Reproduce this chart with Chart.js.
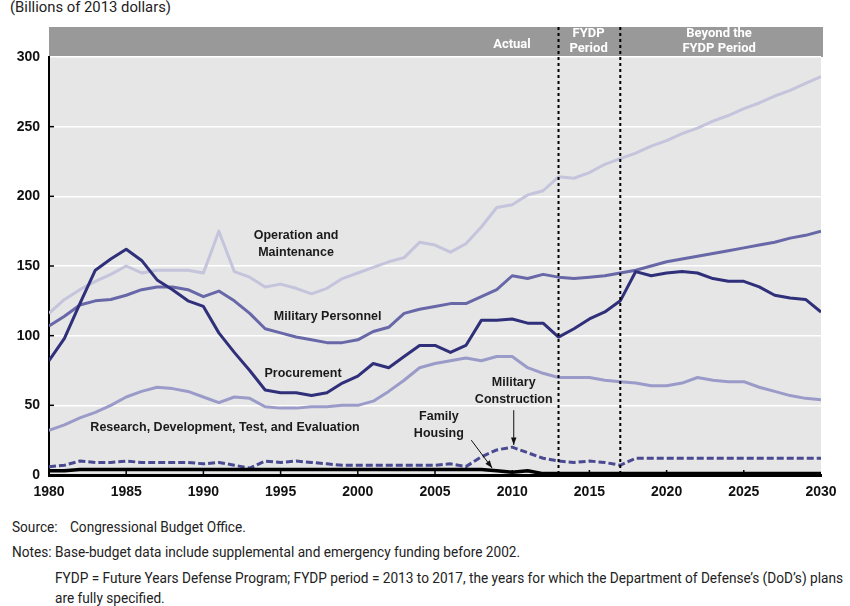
<!DOCTYPE html>
<html>
<head>
<meta charset="utf-8">
<script src="https://cdn.jsdelivr.net/npm/chart.js@4.4.1/dist/chart.umd.min.js"></script>
<style>
  body { margin: 0; background: #fff; width: 850px; height: 606px; overflow: hidden;
         font-family: Roboto, "Noto Sans", sans-serif; color: #222; }
  #wrap { position: absolute; left: 0; top: 0; width: 850px; height: 505px; }
  .t { position: absolute; font-size: 15px; white-space: nowrap; line-height: 17px; transform-origin: 0 50%; }
</style>
</head>
<body>
<div class="t" id="title" style="left:10px;top:-1px">(Billions of 2013 dollars)</div>
<div id="wrap"><canvas id="c"></canvas></div>
<div class="t n" style="left:12px;top:519px">Source:</div>
<div class="t n" style="left:70px;top:519px">Congressional Budget Office.</div>
<div class="t n" style="left:12px;top:544px">Notes:</div>
<div class="t n" style="left:55px;top:544px">Base-budget data include supplemental and emergency funding before 2002.</div>
<div class="t n" id="longline" style="left:55px;top:570px">FYDP = Future Years Defense Program; FYDP period = 2013 to 2017, the years for which the Department of Defense’s (DoD’s) plans</div>
<div class="t n" style="left:55px;top:590px">are fully specified.</div>
<script>
(function(){
    "use strict";

    // years 1980 - 2030
    const years = [1980, 1981, 1982, 1983, 1984, 1985, 1986, 1987, 1988, 1989,
                   1990, 1991, 1992, 1993, 1994, 1995, 1996, 1997, 1998, 1999,
                   2000, 2001, 2002, 2003, 2004, 2005, 2006, 2007, 2008, 2009,
                   2010, 2011, 2012, 2013, 2014, 2015, 2016, 2017, 2018, 2019,
                   2020, 2021, 2022, 2023, 2024, 2025, 2026, 2027, 2028, 2029, 2030];

    const opsMaint = [116, 126, 133, 139, 144, 150, 145, 147, 147, 147,
                      145, 175, 146, 142, 135, 137, 134, 130, 134, 141,
                      145, 149, 153, 156, 167, 165, 160, 166, 178, 192,
                      194, 201, 204, 214, 213, 217, 223, 227, 231, 236,
                      240, 245, 249, 254, 258, 263, 267, 272, 276, 281, 286];

    const milPersonnel = [107, 114, 122, 125, 126, 129, 133, 135, 135, 133,
                          128, 132, 125, 116, 105, 102, 99, 97, 95, 95,
                          97, 103, 106, 116, 119, 121, 123, 123, 128, 133,
                          143, 141, 144, 142, 141, 142, 143, 145, 147, 150,
                          153, 155, 157, 159, 161, 163, 165, 167, 170, 172, 175];

    const procurement = [82, 98, 123, 147, 155, 162, 154, 140, 133, 125,
                         121, 102, 88, 75, 61, 59, 59, 57, 59, 66,
                         71, 80, 77, 85, 93, 93, 88, 93, 111, 111,
                         112, 109, 109, 99, 105, 112, 117, 125, 146, 143,
                         145, 146, 145, 141, 139, 139, 135, 129, 127, 126, 117];

    const rdte = [32, 36, 41, 45, 50, 56, 60, 63, 62, 60,
                  56, 52, 56, 55, 49, 48, 48, 49, 49, 50,
                  50, 53, 60, 68, 77, 80, 82, 84, 82, 85,
                  85, 77, 73, 70, 70, 70, 68, 67, 66, 64,
                  64, 66, 70, 68, 67, 67, 63, 60, 57, 55, 54];

    const milCon = [6, 7, 10, 9, 9, 10, 9, 9, 9, 9,
                    8, 9, 7, 5, 10, 9, 10, 9, 8, 7,
                    7, 7, 7, 7, 7, 7, 8, 6, 13, 18,
                    20, 16, 12, 10, 9, 10, 9, 7, 12, 12,
                    12, 12, 12, 12, 12, 12, 12, 12, 12, 12, 12];

    const familyHousing = [3, 3, 4, 4, 4, 4, 4, 4, 4, 4,
                           4, 4, 4, 4, 4, 4, 4, 4, 4, 4,
                           4, 4, 4, 4, 4, 4, 4, 4, 4, 3,
                           2, 3, 1, 1, 1, 1, 1, 1, 1, 1,
                           1, 1, 1, 1, 1, 1, 1, 1, 1, 1, 1];

    const yTicks = [0, 50, 100, 150, 200, 250, 300];
    const periodBreaks = [2013, 2017];

    const bandFont = 'bold 13px Roboto, "Noto Sans", sans-serif';
    const labelFont = 'bold 12.5px "Liberation Sans", Arial, sans-serif';

    // squeeze the notes so they take the same width as the original condensed type
    function fitText() {
        const longLine = document.getElementById('longline');
        const k = 788 / longLine.getBoundingClientRect().width;
        document.querySelectorAll('.n').forEach(el => { el.style.transform = 'scaleX(' + k + ')'; });
        const title = document.getElementById('title');
        title.style.transform = 'scaleX(' + (161 / title.getBoundingClientRect().width) + ')';
    }

    function pts(values) {
        return years.map((yr, i) => ({ x: yr, y: values[i] }));
    }

    function line(label, values, color, extra) {
        return Object.assign({
            label: label,
            data: pts(values),
            borderColor: color,
            backgroundColor: color,
            borderWidth: 3,
            pointRadius: 0,
            tension: 0,
            fill: false,
            borderJoinStyle: 'round'
        }, extra || {});
    }

    // band, background, ticks, period lines and the text labels
    const decorations = {
        id: 'decorations',
        beforeDraw(chart) {
            const ctx = chart.ctx;
            const a = chart.chartArea;
            ctx.save();
            ctx.fillStyle = '#e6e6e6';
            ctx.fillRect(a.left, a.top, a.right - a.left, a.bottom - a.top);
            ctx.fillStyle = '#999999';
            ctx.fillRect(a.left, a.top - 30, a.right - a.left + 2, 30);
            ctx.restore();
        },
        afterDatasetsDraw(chart) {
            const ctx = chart.ctx;
            const a = chart.chartArea;
            const xs = chart.scales.x;
            const ys = chart.scales.y;
            ctx.save();

            // tick marks
            ctx.strokeStyle = '#000';
            ctx.lineWidth = 1.5;
            for (let yr = 1985; yr < 2030; yr += 5) {
                const px = xs.getPixelForValue(yr);
                ctx.beginPath();
                ctx.moveTo(px, a.bottom - 5);
                ctx.lineTo(px, a.bottom + 2);
                ctx.stroke();
            }
            yTicks.slice(1, -1).forEach(v => {
                const py = ys.getPixelForValue(v);
                ctx.beginPath();
                ctx.moveTo(a.left, py);
                ctx.lineTo(a.left + 5, py);
                ctx.stroke();
            });

            // FYDP period lines
            ctx.lineWidth = 2;
            ctx.setLineDash([3, 3]);
            periodBreaks.forEach(yr => {
                const px = xs.getPixelForValue(yr);
                ctx.beginPath();
                ctx.moveTo(px, a.top - 30);
                ctx.lineTo(px, a.bottom);
                ctx.stroke();
            });
            ctx.setLineDash([]);

            // band text
            ctx.fillStyle = '#fff';
            ctx.font = bandFont;
            ctx.textBaseline = 'middle';
            ctx.textAlign = 'right';
            ctx.fillText('Actual', xs.getPixelForValue(2011.2), a.top - 12);
            ctx.textAlign = 'center';
            const fx = xs.getPixelForValue(2014.95);
            ctx.fillText('FYDP', fx, a.top - 23.5);
            ctx.fillText('Period', fx, a.top - 8);
            const bx = xs.getPixelForValue(2023.4);
            ctx.fillText('Beyond the', bx, a.top - 23.5);
            ctx.fillText('FYDP Period', bx, a.top - 8);

            // series labels
            ctx.fillStyle = '#1a1a1a';
            ctx.font = labelFont;
            const put = (txt, yr, v) => ctx.fillText(txt, xs.getPixelForValue(yr), ys.getPixelForValue(v));
            put('Operation and', 1996.0, 172);
            put('Maintenance', 1996.0, 159.5);
            put('Military Personnel', 1998.05, 114);
            put('Procurement', 1996.45, 72.5);
            put('Research, Development, Test, and Evaluation', 1991.4, 33.7);
            put('Military', 2010.1, 66);
            put('Construction', 2010.1, 53.8);
            put('Family', 2005.25, 42.3);
            put('Housing', 2005.25, 30.1);

            // arrows
            const arrow = (x1, y1, x2, y2) => {
                const p1 = [xs.getPixelForValue(x1), ys.getPixelForValue(y1)];
                const p2 = [xs.getPixelForValue(x2), ys.getPixelForValue(y2)];
                const ang = Math.atan2(p2[1] - p1[1], p2[0] - p1[0]);
                ctx.strokeStyle = '#111';
                ctx.lineWidth = 1;
                ctx.beginPath();
                ctx.moveTo(p1[0], p1[1]);
                ctx.lineTo(p2[0], p2[1]);
                ctx.stroke();
                ctx.fillStyle = '#111';
                ctx.beginPath();
                ctx.moveTo(p2[0], p2[1]);
                ctx.lineTo(p2[0] - 8 * Math.cos(ang - 0.35), p2[1] - 8 * Math.sin(ang - 0.35));
                ctx.lineTo(p2[0] - 8 * Math.cos(ang + 0.35), p2[1] - 8 * Math.sin(ang + 0.35));
                ctx.closePath();
                ctx.fill();
            };
            arrow(2010.1, 46.5, 2010.1, 21.5);
            arrow(2007.35, 25, 2008.7, 5);

            ctx.restore();
        }
    };

    function createChart() {
        const ctx = document.getElementById('c').getContext('2d');
        new Chart(ctx, {
            type: 'line',
            data: {
                datasets: [
                    line('Family Housing', familyHousing, '#000000', { borderWidth: 3.5 }),
                    line('Military Construction', milCon, '#4a4a92', { borderDash: [7, 3], borderCapStyle: 'butt' }),
                    line('Procurement', procurement, '#2f2f7a'),
                    line('Military Personnel', milPersonnel, '#6868a8'),
                    line('Research, Development, Test, and Evaluation', rdte, '#9b9bc9'),
                    line('Operation and Maintenance', opsMaint, '#c4c4dc')
                ]
            },
            options: {
                responsive: true,
                maintainAspectRatio: false,
                animation: false,
                layout: { padding: { top: 57, right: 29, left: 0, bottom: 0 } },
                scales: {
                    x: {
                        type: 'linear',
                        min: 1980,
                        max: 2030,
                        afterFit: s => { s.height = 30; },
                        ticks: {
                            stepSize: 5,
                            padding: 9,
                            color: '#111',
                            font: { family: '"Liberation Sans", Arial, sans-serif', size: 14, weight: 'bold' },
                            callback: v => String(v)
                        },
                        grid: { display: false, drawTicks: false },
                        border: { display: true, color: '#000', width: 3 }
                    },
                    y: {
                        min: 0,
                        max: 300,
                        afterFit: s => { s.width = 49; },
                        ticks: {
                            stepSize: 50,
                            padding: 9,
                            color: '#111',
                            font: { family: '"Liberation Sans", Arial, sans-serif', size: 14, weight: 'bold' }
                        },
                        grid: {
                            drawTicks: false,
                            lineWidth: 1.5,
                            color: c => (c.tick.value > 0 ? '#ffffff' : 'rgba(0,0,0,0)')
                        },
                        border: { display: true, color: '#000', width: 2 }
                    }
                },
                plugins: {
                    legend: { display: false },
                    tooltip: { enabled: false }
                }
            },
            plugins: [decorations]
        });
    }

    fitText();
    createChart();
})();
</script>
</body>
</html>
